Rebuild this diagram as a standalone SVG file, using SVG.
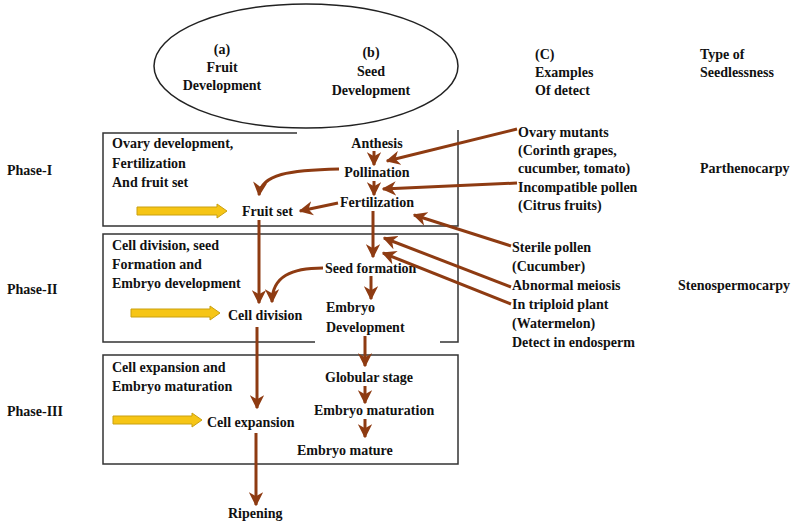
<svg xmlns="http://www.w3.org/2000/svg" width="811" height="522" viewBox="0 0 811 522">
<style>
text{font-family:"Liberation Serif","Times New Roman",serif;font-weight:bold;font-size:14px;fill:#111}
.m{text-anchor:middle}
.box{fill:none;stroke:#333;stroke-width:1.5}
.c{fill:none;stroke:#8E3B12;stroke-width:3;marker-end:url(#ah)}
.y{fill:#F6C515;stroke:#C9A011;stroke-width:1}
</style>
<defs>
<marker id="ah" viewBox="0 0 10 10" refX="9" refY="5" markerWidth="4.8" markerHeight="4.8" orient="auto" markerUnits="strokeWidth">
<path d="M0,0 L10,5 L0,10 L3,5 z" fill="#8E3B12"/>
</marker>
</defs>
<rect width="811" height="522" fill="#fff"/>

<g id="header">
<ellipse cx="306" cy="66" rx="152" ry="62" fill="none" stroke="#222" stroke-width="1.5"/>
<text class="m" x="222" y="54">(a)</text>
<text class="m" x="222" y="72">Fruit</text>
<text class="m" x="222" y="90">Development</text>
<text class="m" x="371" y="57">(b)</text>
<text class="m" x="371" y="76">Seed</text>
<text class="m" x="371" y="95">Development</text>
<text x="535" y="59">(C)</text>
<text x="535" y="77">Examples</text>
<text x="535" y="95">Of detect</text>
<text x="700" y="59">Type of</text>
<text x="700" y="77">Seedlessness</text>
</g>

<g id="phases">
<text x="7" y="175">Phase-I</text>
<text x="7" y="294">Phase-II</text>
<text x="7" y="416">Phase-III</text>
<text x="700" y="173">Parthenocarpy</text>
<text x="678" y="290">Stenospermocarpy</text>
</g>

<g id="box1">
<path class="box" d="M297,133 L103,133 L103,226 L458,226 L458,130"/>
<text x="112" y="148">Ovary development,</text>
<text x="112" y="168">Fertilization</text>
<text x="112" y="187">And fruit set</text>
<path class="y" d="M137,207 L217,207 L217,204 L227,211 L217,218 L217,215 L137,215 z"/>
</g>
<g id="box2">
<path class="box" d="M315,342 L103,342 L103,234 L458,234 L458,342 L440,342"/>
<text x="112" y="250">Cell division, seed</text>
<text x="112" y="269">Formation and</text>
<text x="112" y="288">Embryo development</text>
<path class="y" d="M131,309 L210,309 L210,306 L220,313 L210,320 L210,317 L131,317 z"/>
</g>
<g id="box3">
<rect class="box" x="103" y="355" width="355" height="109"/>
<text x="112" y="372">Cell expansion and</text>
<text x="112" y="391">Embryo maturation</text>
<path class="y" d="M113,416 L192,416 L192,413 L202,420 L192,427 L192,424 L113,424 z"/>
</g>

<g id="n-anthesis"><text class="m" x="377" y="148">Anthesis</text></g>
<g id="n-pollination"><text class="m" x="377" y="177">Pollination</text></g>
<g id="n-fertilization"><text class="m" x="377" y="207">Fertilization</text></g>
<g id="n-fruitset"><text x="242" y="216">Fruit set</text></g>
<g id="n-seedformation"><text x="325" y="273">Seed formation</text></g>
<g id="n-celldivision"><text x="228" y="320">Cell division</text></g>
<g id="n-embryodev"><text x="326" y="312">Embryo</text><text x="326" y="332">Development</text></g>
<g id="n-globular"><text x="325" y="382">Globular stage</text></g>
<g id="n-embryomat"><text x="314" y="415">Embryo maturation</text></g>
<g id="n-embryomature"><text x="297" y="455">Embryo mature</text></g>
<g id="n-cellexp"><text x="207" y="427">Cell expansion</text></g>
<g id="n-ripening"><text x="228" y="518">Ripening</text></g>

<g id="n-ovary"><text x="518" y="137">Ovary mutants</text><text x="518" y="155">(Corinth grapes,</text><text x="518" y="173">cucumber, tomato)</text></g>
<g id="n-incompat"><text x="518" y="192">Incompatible pollen</text><text x="518" y="210">(Citrus fruits)</text></g>
<g id="n-sterile"><text x="512" y="252">Sterile pollen</text><text x="512" y="271">(Cucumber)</text></g>
<g id="n-abnormal"><text x="512" y="290">Abnormal meiosis</text></g>
<g id="n-triploid"><text x="512" y="309">In triploid plant</text><text x="512" y="328">(Watermelon)</text><text x="512" y="347">Detect in endosperm</text></g>

<g id="connectors">
<path class="c" d="M374,151 L374,165"/>
<path class="c" d="M374,181 L374,195"/>
<path class="c" d="M339,169 C290,170 261,174 259,195"/>
<path class="c" d="M338,203 L300,211"/>
<path class="c" d="M259,220 L259,303"/>
<path class="c" d="M373,211 L373,257"/>
<path class="c" d="M323,268 C292,268 272,276 272,302"/>
<path class="c" d="M371,276 L371,299"/>
<path class="c" d="M257,327 L257,408"/>
<path class="c" d="M365,336 L365,366"/>
<path class="c" d="M365,386 L365,403"/>
<path class="c" d="M365,419 L365,437"/>
<path class="c" d="M256,433 L256,505"/>
<path class="c" d="M517,129 L387,161"/>
<path class="c" d="M517,183 L383,189"/>
<path class="c" d="M511,246 L414,215"/>
<path class="c" d="M511,287 L384,238"/>
<path class="c" d="M511,304 L383,253"/>
</g>
</svg>
